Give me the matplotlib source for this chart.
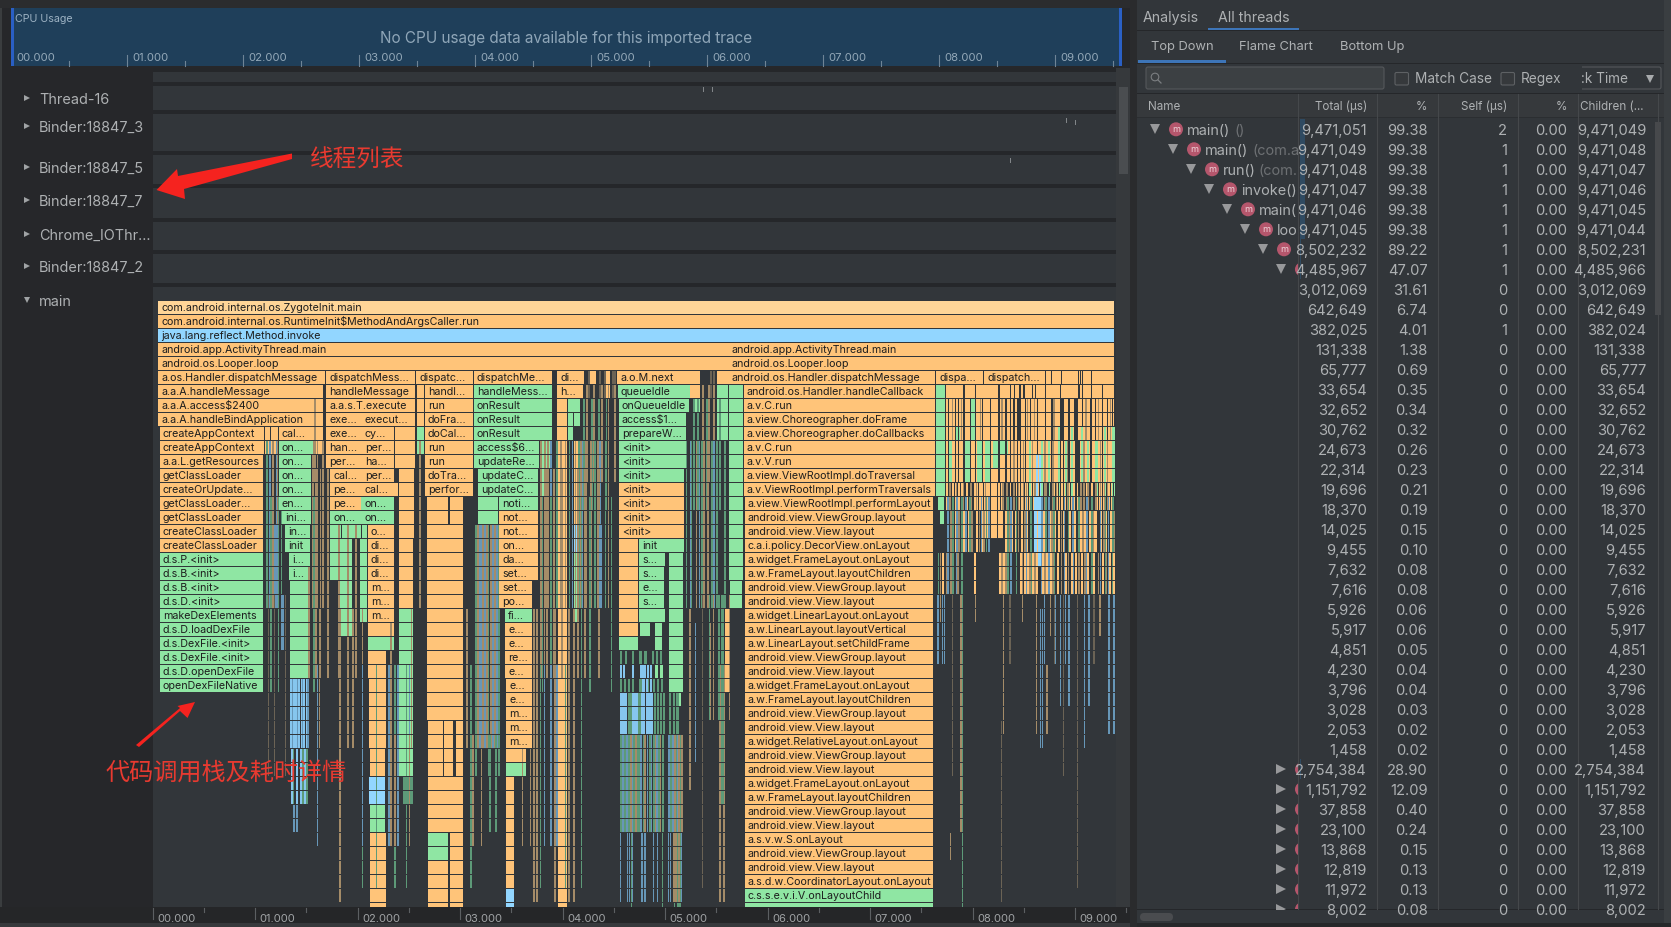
import matplotlib
matplotlib.use("Agg")
import matplotlib.pyplot as plt
from matplotlib.patches import Rectangle, Polygon, Circle, FancyBboxPatch

plt.rcParams['font.family'] = ['Inter', 'DejaVu Sans']

W, H = 1671, 927
BG = '#26272a'; PANEL = '#32363a'; TXT = '#aeb1b3'

COLORS = {'l': '#ffd597', 'o': '#ffc479', 'b': '#92d6ff', 'g': '#8fe6a3', 'bg': PANEL, 'lb': '#86c6ee',
          'mo': '#a58c68', 'mb': '#6797b8', 'mg': '#5d9a78', 'do': '#6b6355'}

# ---------- flame chart data: time in seconds, depth = row index ----------
ROOT_FRAMES = [
    (0, .052, 9.383, 'l', 'com.android.internal.os.ZygoteInit.main'),
    (1, .052, 9.383, 'o', 'com.android.internal.os.RuntimeInit$MethodAndArgsCaller.run'),
    (2, .052, 9.383, 'b', 'java.lang.reflect.Method.invoke'),
    (3, .052, 5.610, 'o', 'android.app.ActivityThread.main'),
    (3, 5.617, 9.383, 'o', 'android.app.ActivityThread.main'),
    (4, .052, 5.610, 'o', 'android.os.Looper.loop'),
    (4, 5.617, 9.383, 'o', 'android.os.Looper.loop'),
]
LEFT_FRAMES = [
    (5, .052, 1.683, 'o', 'a.os.Handler.dispatchMessage'), (5, 1.690, 2.561, 'o', 'dispatchMess...'),
    (5, 2.568, 3.125, 'o', 'dispatc...'), (5, 3.132, 3.902, 'o', 'dispatchMe...'),
    (5, 3.944, 4.209, 'o', 'di...'), (5, 4.530, 5.341, 'o', 'a.o.M.next'),
    (6, .052, 1.662, 'o', 'a.a.A.handleMessage'), (6, 1.690, 2.561, 'o', 'handleMessage'),
    (6, 2.655, 3.125, 'o', 'handl...'), (6, 3.132, 3.902, 'g', 'handleMess...'),
    (6, 3.948, 4.199, 'o', 'h...'), (6, 4.537, 5.244, 'g', 'queueIdle'),
    (7, .052, 1.561, 'o', 'a.a.A.access$2400'), (7, 1.690, 2.561, 'o', 'a.a.s.T.execute'),
    (7, 2.655, 3.125, 'o', 'run'), (7, 3.132, 3.902, 'g', 'onResult'), (7, 4.547, 5.237, 'g', 'onQueueIdle'),
    (8, .052, 1.561, 'o', 'a.a.A.handleBindApplication'), (8, 1.690, 2.031, 'o', 'exe...'),
    (8, 2.038, 2.561, 'o', 'execut...'), (8, 2.655, 3.125, 'o', 'doFra...'),
    (8, 3.132, 3.902, 'g', 'onResult'), (8, 4.547, 5.202, 'g', 'access$1...'),
    (9, .070, 1.091, 'o', 'createAppContext'), (9, 1.230, 1.561, 'o', 'cal...'), (9, 1.690, 2.031, 'o', 'exe...'),
    (9, 2.038, 2.359, 'o', 'cy...'), (9, 2.655, 3.125, 'o', 'doCal...'), (9, 3.132, 3.902, 'g', 'onResult'),
    (9, 4.547, 5.202, 'g', 'prepareW...'),
    (10, .070, 1.091, 'o', 'createAppContext'), (10, 1.230, 1.561, 'g', 'on...'), (10, 1.690, 2.031, 'o', 'han...'),
    (10, 2.038, 2.359, 'o', 'per...'), (10, 2.655, 3.125, 'o', 'run'), (10, 3.132, 3.774, 'g', 'access$6...'),
    (10, 4.547, 5.202, 'g', '<init>'),
    (11, .070, 1.080, 'o', 'a.a.L.getResources'), (11, 1.230, 1.544, 'g', 'on...'), (11, 1.690, 2.031, 'o', 'per...'),
    (11, 2.038, 2.359, 'o', 'ha...'), (11, 2.655, 3.125, 'o', 'run'), (11, 3.132, 3.774, 'g', 'updateRe...'),
    (11, 4.547, 5.202, 'g', '<init>'),
    (12, .070, 1.080, 'o', 'getClassLoader'), (12, 1.230, 1.544, 'g', 'on...'), (12, 1.735, 2.031, 'o', 'cal...'),
    (12, 2.038, 2.359, 'o', 'per...'), (12, 2.655, 3.125, 'o', 'doTra...'), (12, 3.171, 3.763, 'g', 'updateC...'),
    (12, 4.547, 5.181, 'g', '<init>'),
    (13, .070, 1.080, 'o', 'createOrUpdate...'), (13, 1.230, 1.544, 'g', 'on...'), (13, 1.735, 2.031, 'o', 'pe...'),
    (13, 2.038, 2.394, 'o', 'cal...'), (13, 2.655, 3.125, 'o', 'perfor...'), (13, 3.171, 3.763, 'g', 'updateC...'),
    (13, 4.547, 5.181, 'o', '<init>'),
    (14, .070, 1.080, 'o', 'getClassLoader...'), (14, 1.230, 1.544, 'g', 'en...'), (14, 1.735, 2.031, 'o', 'pe...'),
    (14, 2.038, 2.359, 'g', 'on...'), (14, 3.380, 3.763, 'g', 'noti...'), (14, 4.547, 5.181, 'o', '<init>'),
    (15, .070, 1.080, 'o', 'getClassLoader'), (15, 1.265, 1.544, 'g', 'ini...'), (15, 1.735, 2.031, 'g', 'on...'),
    (15, 2.038, 2.359, 'g', 'on...'), (15, 3.380, 3.700, 'o', 'not...'), (15, 4.547, 5.181, 'o', '<init>'),
    (16, .070, 1.080, 'o', 'createClassLoader'), (16, 1.289, 1.533, 'g', 'in...'), (16, 2.098, 2.359, 'o', 'o...'),
    (16, 3.380, 3.700, 'o', 'not...'), (16, 4.547, 5.181, 'o', '<init>'),
    (17, .070, 1.080, 'o', 'createClassLoader'), (17, 1.289, 1.533, 'g', 'init'), (17, 2.098, 2.359, 'o', 'di...'),
    (17, 3.380, 3.700, 'o', 'on...'), (17, 4.746, 5.181, 'g', 'init'),
    (18, .070, 1.080, 'g', 'd.s.P.<init>'), (18, 1.334, 1.533, 'g', 'i...'), (18, 2.098, 2.359, 'o', 'di...'),
    (18, 3.380, 3.700, 'o', 'da...'), (18, 4.746, 5.000, 'g', 's...'),
    (19, .070, 1.080, 'g', 'd.s.B.<init>'), (19, 1.334, 1.516, 'g', 'i...'), (19, 2.098, 2.359, 'o', 'di...'),
    (19, 3.380, 3.700, 'o', 'set...'), (19, 4.746, 4.993, 'g', 's...'),
    (20, .070, 1.080, 'g', 'd.s.B.<init>'), (20, 2.098, 2.359, 'o', 'm...'), (20, 3.380, 3.700, 'o', 'set...'),
    (20, 4.746, 4.993, 'g', 'e...'),
    (21, .070, 1.080, 'g', 'd.s.D.<init>'), (21, 2.098, 2.359, 'o', 'm...'), (21, 3.380, 3.700, 'o', 'po...'),
    (21, 4.746, 4.993, 'g', 's...'),
    (22, .070, 1.080, 'g', 'makeDexElements'), (22, 2.098, 2.359, 'o', 'm...'), (22, 3.439, 3.700, 'g', 'fi...'),
    (23, .070, 1.080, 'g', 'd.s.D.loadDexFile'), (23, 3.439, 3.700, 'o', 'e...'),
    (24, .070, 1.080, 'g', 'd.s.DexFile.<init>'), (24, 3.439, 3.700, 'o', 'e...'),
    (25, .070, 1.080, 'g', 'd.s.DexFile.<init>'), (25, 3.439, 3.700, 'o', 're...'),
    (26, .070, 1.080, 'g', 'd.s.D.openDexFile'), (26, 3.439, 3.700, 'o', 'e...'),
    (27, .070, 1.080, 'g', 'openDexFileNative'), (27, 3.449, 3.700, 'o', 'e...'),
    (28, 3.449, 3.700, 'o', 'e...'), (29, 3.449, 3.700, 'o', 'm...'),
    (30, 3.449, 3.700, 'o', 'm...'), (31, 3.449, 3.700, 'o', 'm...'),
]
RIGHT_FRAMES = [
    (5, 5.617, 7.637, 'o', 'android.os.Handler.dispatchMessage'),
    (5, 7.643, 8.105, 'o', 'dispa...'), (5, 8.112, 8.707, 'o', 'dispatch...'),
]
# labelled run of the long layout frame, one entry per row starting at depth 6
LAYOUT_START_DEPTH = 6
LAYOUT_STACK = [
    'android.os.Handler.handleCallback', 'a.v.C.run', 'a.view.Choreographer.doFrame',
    'a.view.Choreographer.doCallbacks', 'a.v.C.run', 'a.v.V.run', 'a.view.ViewRootImpl.doTraversal',
    'a.v.ViewRootImpl.performTraversals', 'a.view.ViewRootImpl.performLayout', 'android.view.ViewGroup.layout',
    'android.view.View.layout', 'c.a.i.policy.DecorView.onLayout', 'a.widget.FrameLayout.onLayout',
    'a.w.FrameLayout.layoutChildren', 'android.view.ViewGroup.layout', 'android.view.View.layout',
    'a.widget.LinearLayout.onLayout', 'a.w.LinearLayout.layoutVertical', 'a.w.LinearLayout.setChildFrame',
    'android.view.ViewGroup.layout', 'android.view.View.layout', 'a.widget.FrameLayout.onLayout',
    'a.w.FrameLayout.layoutChildren', 'android.view.ViewGroup.layout', 'android.view.View.layout',
    'a.widget.RelativeLayout.onLayout', 'android.view.ViewGroup.layout', 'android.view.View.layout',
    'a.widget.FrameLayout.onLayout', 'a.w.FrameLayout.layoutChildren', 'android.view.ViewGroup.layout',
    'android.view.View.layout', 'a.s.v.w.S.onLayout', 'android.view.ViewGroup.layout',
    'android.view.View.layout', 'a.s.d.w.CoordinatorLayout.onLayout', 'c.s.s.e.v.i.V.onLayoutChild', '...',
]
# unlabelled blocks: first depth, last depth, start, end, kind
BLOCKS = [
    (6, 7, 1.568, 1.662, 'o'), (8, 9, 1.568, 1.662, 'o'), (9, 9, 1.098, 1.150, 'o'), (9, 9, 1.160, 1.223, 'o'),
    (10, 10, 1.098, 1.223, 'o'), (10, 10, 1.575, 1.662, 'o'),
    (9, 11, 2.366, 2.561, 'o'), (12, 13, 2.401, 2.554, 'o'), (14, 16, 2.401, 2.554, 'o'), (17, 21, 2.401, 2.544, 'o'),
    (6, 8, 2.578, 2.648, 'o'), (9, 10, 2.578, 2.648, 'g'),
    (14, 15, 2.676, 2.882, 'o'), (14, 15, 2.902, 3.031, 'o'), (16, 29, 2.676, 3.031, 'o'),
    (30, 33, 2.683, 2.833, 'o'), (30, 33, 2.840, 2.927, 'o'), (30, 33, 2.962, 3.031, 'o'),
    (34, 37, 2.683, 3.031, 'o'), (38, 39, 2.683, 2.882, 'g'), (38, 39, 2.902, 3.031, 'o'),
    (40, 43, 2.683, 2.882, 'o'), (40, 43, 2.902, 3.031, 'o'),
    (14, 15, 3.171, 3.373, 'g'), (6, 6, 4.05, 4.164, 'o'), (7, 13, 3.948, 4.042, 'o'), (14, 21, 3.955, 4.042, 'o'), (22, 43, 3.955, 4.042, 'o'),
    (7, 7, 4.049, 4.171, 'g'), (8, 9, 4.049, 4.101, 'g'), (8, 8, 4.108, 4.171, 'g'),
    (6, 6, 3.948, 4.199, 'o'), (10, 15, 4.11, 4.164, 'o'), (16, 17, 4.11, 4.164, 'b'), (18, 22, 4.11, 4.164, 'g'),
    (15, 19, 3.70, 3.76, 'o'),
    (5, 5, 4.250, 4.330, 'o'), (5, 6, 4.400, 4.460, 'o'),
    (10, 11, 3.780, 3.902, 'g'), (12, 13, 3.780, 3.870, 'g'),
    (6, 6, 5.244, 5.341, 'o'), (7, 7, 5.272, 5.341, 'g'),
    (16, 16, 1.735, 1.840, 'g'), (16, 16, 1.847, 1.944, 'g'), (16, 16, 1.951, 2.031, 'g'), (16, 16, 2.045, 2.091, 'g'),
    (17, 19, 1.735, 1.810, 'g'), (17, 19, 1.82, 1.943, 'g'), (17, 19, 2.02, 2.091, 'g'),
    (20, 23, 1.82, 1.943, 'g'), (20, 22, 2.02, 2.091, 'g'),
    (20, 26, 1.341, 1.516, 'g'),
    (23, 23, 2.098, 2.359, 'o'), (24, 24, 2.098, 2.359, 'g'), (25, 26, 2.098, 2.282, 'o'), (27, 31, 2.108, 2.282, 'o'),
    (32, 33, 2.122, 2.265, 'o'), (34, 35, 2.115, 2.265, 'b'), (36, 37, 2.122, 2.265, 'g'), (38, 43, 2.125, 2.275, 'o'),
    (22, 26, 2.401, 2.544, 'g'), (27, 31, 2.404, 2.544, 'g'), (32, 33, 2.404, 2.544, 'g'), (34, 35, 2.440, 2.544, 'mg'),
    (32, 33, 3.449, 3.641, 'o'), (33, 33, 3.449, 3.641, 'g'), (34, 41, 3.449, 3.530, 'o'), (42, 43, 3.449, 3.530, 'b'),
    (17, 23, 4.547, 4.739, 'o'), (24, 24, 4.547, 4.739, 'g'),
    (18, 27, 5.035, 5.174, 'g'), (22, 22, 4.746, 5.000, 'g'), (23, 24, 4.90, 4.97, 'g'), (23, 23, 4.76, 4.85, 'g'),
    (28, 28, 5.13, 5.155, 'g'),
    (16, 26, 1.340, 1.500, 'g'),
    (5, 5, 5.504, 5.610, 'o'), (6, 9, 5.504, 5.610, 'g'), (6, 19, 5.621, 5.764, 'g'), (20, 21, 5.630, 5.754, 'g'),
    (5, 5, 8.713, 9.383, 'o'), (6, 14, 7.74, 9.383, 'o'), (15, 16, 8.12, 8.30, 'o'),
    (6, 13, 7.643, 7.735, 'g'), (14, 14, 7.66, 7.72, 'g'), (15, 15, 7.68, 7.72, 'g'),
    (7, 9, 7.99, 8.024, 'g'), (9, 9, 7.83, 7.88, 'g'),
    (10, 12, 7.91, 7.99, 'g'), (10, 12, 8.04, 8.105, 'g'), (10, 12, 8.12, 8.17, 'g'), (10, 11, 8.20, 8.25, 'g'),
    (10, 10, 8.25, 8.35, 'g'), (10, 12, 7.77, 7.80, 'g'),
]
# thin stripes: first depth, last depth, kind, width, times
STRIPES = [
    (5, 5, 'bg', .012, [8.762, 8.86, 9.026, 9.05, 9.065, 9.153]),
    (6, 6, 'bg', .012, [7.91, 8.024, 8.252, 8.366, 8.405, 8.457, 8.496, 8.577, 8.61, 8.707, 8.853, 9.032, 9.065, 9.153, 9.26]),
    (7, 12, 'bg', .012, [7.76, 7.83, 7.86, 7.91, 7.975, 8.024, 8.09, 8.17, 8.252, 8.32, 8.366, 8.40, 8.51, 8.56, 8.63, 8.707, 8.77, 8.935, 9.02, 9.065, 9.15, 9.195, 9.26, 9.31, 9.36]),
    (7, 9, 'bg', .04, [8.43, 8.85, 8.99]),
    (7, 9, 'mo', .014, [7.80, 7.885, 8.07, 8.28, 8.53, 8.60, 8.79, 9.10, 9.22, 9.34]),
    (9, 13, 'g', .025, [8.83, 8.96, 9.055, 9.28, 9.365]),
    (10, 13, 'g', .02, [8.55, 8.67, 8.74, 8.90, 9.12, 9.20]),
    (10, 14, 'bg', .016, [8.43, 8.46, 8.85, 8.88, 9.0, 9.03]),
    (11, 14, 'b', .02, [8.62, 8.645]),
    (10, 14, 'mo', .014, [8.40, 8.49, 8.58, 8.70, 8.78, 8.92, 9.08, 9.24, 9.31]),
    (13, 14, 'bg', .012, [7.76, 7.79, 7.82, 7.85, 7.88, 7.92, 7.96, 8.00, 8.05, 8.10, 8.17, 8.24, 8.27, 8.31, 8.35, 8.38, 8.41, 8.50, 8.54, 8.58, 8.65, 8.69, 8.73, 8.76, 8.80, 8.83, 8.91, 8.95, 9.07, 9.10, 9.14, 9.18, 9.22, 9.26, 9.30, 9.34, 9.37]),
    (13, 14, 'mo', .016, [7.775, 7.835, 7.905, 7.98, 8.03, 8.12, 8.29, 8.33, 8.44, 8.52, 8.60, 8.71, 8.81, 8.93, 9.05, 9.12, 9.20, 9.28]),
    (15, 16, 'bg', .012, [8.17, 8.24]),
    (15, 17, 'o', .024, [7.75, 7.83, 7.90, 7.96, 8.03, 8.08, 8.32, 8.37, 8.41, 8.47, 8.52, 8.56, 8.63, 8.69, 8.74, 8.79, 8.83, 8.88, 8.94, 8.99, 9.04, 9.09, 9.14, 9.19, 9.24, 9.29, 9.34]),
    (15, 17, 'mo', .018, [7.78, 7.86, 7.93, 7.99, 8.06, 8.10, 8.35, 8.44, 8.50, 8.66, 8.77, 8.86, 8.97, 9.07, 9.17, 9.27, 9.37]),
    (14, 17, 'mb', .016, [7.75, 7.84, 7.93, 8.08, 8.15, 8.37, 8.52, 8.67, 8.74, 8.89, 8.97, 9.11, 9.24, 9.32]),
    (14, 17, 'mg', .016, [7.80, 7.89, 7.97, 8.13, 8.34, 8.42, 8.56, 8.71, 8.79, 8.93, 9.03, 9.16, 9.29, 9.36]),
    (14, 18, 'b', .025, [8.60, 8.64]),
    (18, 20, 'mb', .016, [7.75, 7.84, 8.37, 8.52, 8.67, 8.74, 8.89, 8.97, 9.11, 9.24, 9.32]),
    (18, 20, 'mg', .016, [7.66, 7.80, 7.89, 8.34, 8.42, 8.56, 8.71, 8.79, 8.93, 9.03, 9.16, 9.29, 9.36]),
    (18, 20, 'o', .02, [7.70, 8.01, 8.26, 8.30, 8.46, 8.50, 8.53, 8.58, 8.62, 8.68, 8.72, 8.76, 8.82, 8.90, 8.96, 9.00, 9.06, 9.12, 9.18, 9.26, 9.33, 9.37]),
    (18, 20, 'mo', .016, [7.68, 7.74, 7.78, 7.85, 8.28, 8.32, 8.48, 8.55, 8.60, 8.70, 8.78, 8.86, 8.93, 9.03, 9.09, 9.22, 9.30]),
    (5, 6, 'do', .02, [4.25, 4.36, 4.40, 4.48, 4.50, 5.44, 5.47]),
    (6, 12, 'mo', .018, [1.58, 4.23, 4.30, 4.38, 4.44, 4.50, 5.36, 5.42, 5.47]),
    (7, 14, 'mg', .018, [4.20, 4.28, 4.35, 4.42, 5.27, 5.31, 5.40, 5.53]),
    (10, 21, 'mo', .016, [1.17, 1.21, 1.56, 1.60, 1.655, 2.60, 3.78, 3.82, 3.85, 3.98, 4.02, 4.12, 4.17, 4.22, 4.27, 4.34, 4.44, 5.30, 5.37, 5.41]),
    (10, 21, 'mg', .016, [1.11, 1.25, 3.94, 4.06, 4.15, 4.31, 4.41, 5.20, 5.25, 5.35, 5.45, 5.50, 5.58]),
    (10, 21, 'mb', .014, [1.14, 1.20, 3.88, 4.09, 4.19, 4.36, 5.24, 5.33, 5.47]),
    (12, 26, 'mo', .018, [1.52, 1.59, 1.63, 1.70, 1.81, 1.90, 1.98, 3.78, 3.84, 3.91, 3.99, 4.14, 4.21, 4.35]),
    (14, 27, 'mg', .014, [1.15, 1.22, 1.57, 3.80, 3.88, 4.18, 4.26, 4.47]),
    (16, 31, 'mo', .03, [3.17, 3.21, 3.25, 3.29, 3.33]),
    (16, 31, 'mb', .02, [3.19, 3.23, 3.31, 3.35]),
    (16, 33, 'mg', .016, [3.15, 3.27, 3.37]),
    (16, 21, 'mb', .03, [1.19, 4.36]),
    (21, 33, 'do', .012, [1.122, 1.29, 1.185]),
    (21, 24, 'mb', .02, [1.25, 1.26]),
    (22, 42, 'mo', .02, [1.82, 3.71, 3.74, 3.92, 4.05, 4.10]),
    (22, 31, 'mo', .014, [1.62, 1.90, 1.95, 2.04, 2.32, 2.52, 3.06, 3.82]),
    (26, 41, 'mg', .014, [2.04, 2.18, 2.36, 2.47, 3.10, 3.78, 4.02, 4.18]),
    (26, 38, 'mb', .014, [1.60, 2.04, 2.30, 2.39, 2.50, 3.82, 3.88, 3.94]),
    (31, 38, 'mo', .014, [2.32, 2.36, 2.50, 3.12, 3.20, 3.60, 3.68]),
    (31, 37, 'mg', .02, [3.28, 3.34]),
    (27, 31, 'lb', .02, [1.345, 1.37, 1.395, 1.42, 1.445, 1.47, 1.495]),
    (27, 31, 'mb', .012, [1.36, 1.41, 1.46, 1.51]),
    (32, 35, 'lb', .02, [1.35, 1.40, 1.44, 1.48]),
    (32, 35, 'mg', .014, [1.37, 1.46, 1.50]),
    (36, 37, 'mb', .016, [1.375, 1.40]),
    # lower block of the 4.55-5.2 s burst
    (25, 25, 'mg', .022, [4.56, 4.61, 4.68, 4.75, 4.80, 4.87, 4.91, 4.95]),
    (26, 26, 'lb', .022, [4.56, 4.59, 4.68, 4.76, 4.79, 4.82, 4.85]),
    (26, 26, 'g', .03, [4.90, 4.95]),
    (27, 27, 'mg', .022, [4.56, 4.60, 4.64, 4.68, 4.75, 4.82, 4.88, 4.92, 4.96]),
    (27, 27, 'lb', .022, [4.78, 4.81, 4.85]),
    (28, 30, 'lb', .024, [4.56, 4.585, 4.61, 4.68, 4.71, 4.76, 4.785, 4.81, 4.835, 4.86]),
    (28, 30, 'mg', .022, [4.635, 4.66, 4.74, 4.89, 4.92, 4.95, 4.98, 5.04, 5.08, 5.11]),
    (31, 37, 'mg', .022, [4.56, 4.60, 4.64, 4.69, 4.73, 4.79, 4.84, 4.88, 4.93, 4.97, 5.05, 5.10, 5.15]),
    (31, 37, 'mb', .018, [4.58, 4.62, 4.67, 4.76, 4.82, 4.86, 4.91, 5.03, 5.07, 5.12]),
    (31, 37, 'mo', .014, [4.66, 4.71, 4.80, 4.90, 4.95, 5.09, 5.13, 5.16]),
    (38, 42, 'mb', .012, [4.56, 4.63, 4.645, 4.68, 4.77, 4.80, 4.88, 4.92, 5.03, 5.05, 5.15]),
    (38, 43, 'mg', .012, [4.67, 4.97, 5.09, 5.12, 5.14]),
    (38, 42, 'mo', .014, [5.08, 5.10, 5.13]),
    (22, 34, 'mo', .012, [5.237]), (23, 32, 'mb', .012, [5.293]), (23, 30, 'do', .012, [5.357]),
    (23, 29, 'mo', .012, [5.44]), (26, 42, 'mo', .012, [5.53, 5.57]), (21, 35, 'mg', .014, [5.545, 5.56]),
    (22, 27, 'o', .03, [5.59]), (21, 41, 'do', .012, [5.357]), (21, 29, 'mo', .012, [5.47, 5.627]),
    (21, 29, 'mg', .012, [5.43, 5.52]),
    (21, 25, 'mb', .012, [7.657, 7.70, 7.72, 8.70, 8.80, 8.90, 9.13, 9.09]),
    (21, 22, 'mo', .012, [7.68, 8.02, 8.485]),
    (21, 33, 'do', .012, [7.80]),
    (21, 37, 'mo', .014, [7.88]), (21, 43, 'mg', .012, [7.90]),
    (21, 30, 'mo', .012, [8.30, 8.62]),
    (30, 42, 'do', .012, [8.28]),
    (21, 25, 'do', .012, [8.36, 8.795, 9.18]),
    (22, 31, 'mb', .012, [8.66, 8.68, 9.088]),
    (26, 30, 'mo', .012, [8.72]),
    (21, 28, 'mb', .012, [8.85, 8.935, 9.13]),
    (21, 33, 'do', .012, [8.885]),
    (21, 41, 'do', .014, [9.017]),
    (21, 23, 'mo', .012, [9.237, 8.755]),
    (21, 30, 'mb', .012, [9.325, 9.375]),
    (38, 39, 'mo', .012, [7.78]),
]
THREADS = ['Thread-16', 'Binder:18847_3', 'Binder:18847_5', 'Binder:18847_7', 'Chrome_IOThr...', 'Binder:18847_2', 'main']
TICK_LABELS = ['00.000', '01.000', '02.000', '03.000', '04.000', '05.000', '06.000', '07.000', '08.000', '09.000']

# ---------- table data ----------
NAMES = ['main()', 'main()', 'run()', 'invoke()', 'main(', 'loo', '', '']
NAME_SUFFIX = ['()', '(com.a', '(com.', '', '', '', '', '']
TOTAL = ['9,471,051', '9,471,049', '9,471,048', '9,471,047', '9,471,046', '9,471,045', '8,502,232', '4,485,967',
         '3,012,069', '642,649', '382,025', '131,338', '65,777', '33,654', '32,652', '30,762', '24,673', '22,314',
         '19,696', '18,370', '14,025', '9,455', '7,632', '7,616', '5,926', '5,917', '4,851', '4,230', '3,796',
         '3,028', '2,053', '1,458', '2,754,384', '1,151,792', '37,858', '23,100', '13,868', '12,819', '11,972', '8,002']
TOTAL_PCT = ['99.38'] * 6 + ['89.22', '47.07', '31.61', '6.74', '4.01', '1.38', '0.69', '0.35', '0.34', '0.32', '0.26',
             '0.23', '0.21', '0.19', '0.15', '0.10', '0.08', '0.08', '0.06', '0.06', '0.05', '0.04', '0.04', '0.03',
             '0.02', '0.02', '28.90', '12.09', '0.40', '0.24', '0.15', '0.13', '0.13', '0.08']
SELF = ['2', '1', '1', '1', '1', '1', '1', '1', '0', '0', '1'] + ['0'] * 29
SELF_PCT = ['0.00'] * 40
CHILDREN = ['9,471,049', '9,471,048', '9,471,047', '9,471,046', '9,471,045', '9,471,044', '8,502,231', '4,485,966',
            '3,012,069', '642,649', '382,024', '131,338', '65,777', '33,654', '32,652', '30,762', '24,673', '22,314',
            '19,696', '18,370', '14,025', '9,455', '7,632', '7,616', '5,926', '5,917', '4,851', '4,230', '3,796',
            '3,028', '2,053', '1,458', '2,754,384', '1,151,792', '37,858', '23,100', '13,868', '12,819', '11,972', '8,002']

fig = plt.figure(figsize=(W / 100, H / 100), dpi=100, facecolor=BG)

# ---------- screen chrome, in pixel coordinates ----------
ax = fig.add_axes([0, 0, 1, 1], zorder=1)
ax.set_xlim(0, W); ax.set_ylim(H, 0); ax.axis('off')

def box(x0, y0, x1, y1, c, target=ax, **kw):
    target.add_patch(Rectangle((x0, y0), x1 - x0, y1 - y0, facecolor=c, edgecolor='none', **kw))

box(0, 0, W, 8, '#2b2c2e')
box(0, 8, 2, H, '#3a3d3f')
box(1130, 0, 1137, H, '#2a2b2d')
# CPU usage panel
box(11, 8, 1122, 66, '#1f3f5a')
box(11, 8, 14, 66, '#2a5fc4'); box(1119, 8, 1122, 66, '#2a5fc4')
ax.text(15, 18.5, 'CPU Usage', color='#9db2c3', fontsize=7.7, va='center')
ax.text(566, 38.5, 'No CPU usage data available for this imported trace', color='#8fa6b8', fontsize=11,
        va='center', ha='center')
CPU_X0, CPU_PX_PER_S = 11, 116
for i, lab in enumerate(TICK_LABELS):
    x = CPU_X0 + i * CPU_PX_PER_S
    if i:
        ax.plot([x, x], [55, 66], color='#6e8496', lw=.8)
    ax.plot([x + 58, x + 58], [61, 66], color='#6e8496', lw=.8)
    ax.text(x + 5, 57.5, lab, color='#93a8b8', fontsize=8.2, va='center')

# track rows
TRACK_ROWS = [(72, 82), (86, 110), (114, 151), (155, 184), (188, 218), (222, 250), (254, 283), (287, 907)]
LABEL_Y = [98, 126, 167, 200, 234, 266, 300]
box(153, 68, 1130, 907, '#25272a')
box(1116, 68, 1130, 907, '#36393c')
for y0, y1 in TRACK_ROWS:
    box(153, y0, 1116, y1, PANEL)
box(1119, 87, 1128, 174, '#4a4d50')
for lab, y in zip(THREADS, LABEL_Y):
    ax.text(39, y + 1.5, lab, color=TXT, fontsize=10.4, va='center')
    if lab == 'main':
        ax.plot([27], [y], marker='v', ms=5, color='#a0a3a5', mew=0)
    else:
        ax.plot([27], [y], marker='>', ms=5, color='#a0a3a5', mew=0)
for (mx, my) in [(703, 89), (712, 89), (1066, 120), (1075, 122), (1010, 160)]:
    ax.plot([mx, mx], [my - 2, my + 2], color='#85898c', lw=.7)

# bottom ruler of the flame chart
box(0, 907, 1130, 923, '#252628')
box(0, 923, 1130, H, '#37393c')

# ---------- flame chart: x = seconds, y = depth ----------
PX_PER_S, T0_PX = 102.5, 152.5
ROW_PX, D0_PX = 14, 307.5
fl = fig.add_axes([153 / W, 1 - 907 / H, (1116 - 153) / W, (907 - 295) / H], zorder=2)
fl.patch.set_alpha(0); fl.axis('off')
fl.set_xlim((153 - T0_PX) / PX_PER_S, (1116 - T0_PX) / PX_PER_S)
fl.set_ylim((907 - D0_PX) / ROW_PX, (295 - D0_PX) / ROW_PX)
BAR_H = 13 / 14

def bars(rows, z):
    by = {}
    for d, t0, t1, k in rows:
        by.setdefault(k, []).append((d, t0, t1))
    for k, v in by.items():
        fl.barh([r[0] for r in v], [r[2] - r[1] for r in v], left=[r[1] for r in v],
                height=BAR_H, color=COLORS[k], lw=0, zorder=z)

block_rows = [(d, t0, t1, k) for d0, d1, t0, t1, k in BLOCKS for d in range(d0, d1 + 1)]
bars(block_rows, 2)
z = 3
for d0, d1, k, w, times in STRIPES:
    bars([(d, t, t + w, k) for t in times for d in range(d0, d1 + 1)], z)
    z += .001

def frame(d, t0, t1, k, label):
    fl.barh(d, t1 - t0, left=t0, height=BAR_H, color=COLORS[k], lw=0, zorder=4)
    if label != '...':
        fl.text(t0 + .032, d + .03, label, color='#1d1d1d', fontsize=7.7, va='center', ha='left', zorder=5)

for rec in ROOT_FRAMES + LEFT_FRAMES + RIGHT_FRAMES:
    frame(*rec)
for i, lab in enumerate(LAYOUT_STACK):
    d = LAYOUT_START_DEPTH + i
    t0, t1 = (5.767, 7.637) if d < 14 else (5.777, 7.617)
    frame(d, t0, t1, 'g' if d >= 42 else 'o', lab)

for i, lab in enumerate(TICK_LABELS):
    x = T0_PX + i * PX_PER_S
    ax.plot([x, x], [908, 919], color='#5c5f62', lw=.8)
    ax.plot([x + PX_PER_S / 2] * 2, [908, 912], color='#5c5f62', lw=.8)
    ax.text(x + 4.5, 918.5, lab, color='#a2a5a7', fontsize=8, va='center', zorder=3)

# ---------- right panel ----------
box(1137, 0, W, H, PANEL)
box(1137, 30, 1664, 31, '#25272a'); box(1137, 62.5, 1664, 63.5, '#25272a'); box(1137, 93, 1664, 94, '#25272a')
box(1137, 117, 1664, 118, '#2b2e31'); box(1137, 909, 1664, 910, '#25272a'); box(1664, 0, W, H, '#3a3e41')
box(1137, 923, W, H, '#26282a')
ax.text(1143, 17.5, 'Analysis', color=TXT, fontsize=10.2, va='center')
ax.text(1218, 17.5, 'All threads', color=TXT, fontsize=10.2, va='center')
box(1208, 28, 1299, 30, '#3d75b8')
ax.text(1151, 47, 'Top Down', color=TXT, fontsize=9.3, va='center')
ax.text(1239, 47, 'Flame Chart', color=TXT, fontsize=9.3, va='center')
ax.text(1339.5, 47, 'Bottom Up', color=TXT, fontsize=9.3, va='center')
box(1138, 60, 1226, 63, '#3d75b8')
ax.add_patch(FancyBboxPatch((1146, 67), 238, 22, boxstyle='round,pad=0,rounding_size=2', fc='#3c4043', ec='#55585b', lw=.8))
ax.add_patch(Circle((1155, 77), 3.8, fc='none', ec='#7b7e81', lw=.8))
ax.plot([1158, 1161], [80, 83], color='#7b7e81', lw=.9)
for cx in (1395, 1501):
    ax.add_patch(FancyBboxPatch((cx, 72.5), 13.5, 12.5, boxstyle='round,pad=0,rounding_size=1.5', fc='#36393c', ec='#5e6164', lw=.8))
ax.text(1415, 79, 'Match Case', color=TXT, fontsize=9.8, va='center')
ax.text(1521, 79, 'Regex', color=TXT, fontsize=9.8, va='center')
ax.add_patch(FancyBboxPatch((1580, 67), 81, 22, boxstyle='round,pad=0,rounding_size=2', fc='#32363a', ec='#55585b', lw=.8))
box(1570, 66, 1582, 90, PANEL)
ax.text(1581, 79, ':k Time', color=TXT, fontsize=9.8, va='center')
ax.plot([1650], [78.5], marker='v', ms=6, color='#a8abad', mew=0)

box(1137, 94, 1664, 117, '#36393c')
COL_LINES = [1297.7, 1377.4, 1437.5, 1517.5, 1577.5, 1658]
for x in COL_LINES:
    ax.plot([x, x], [94, 909], color='#45484b', lw=.8, zorder=2)
HDR_RIGHT = [(1367, 'Total (µs)'), (1427.5, '%'), (1507, 'Self (µs)'), (1567.5, '%')]
ax.text(1148, 106.5, 'Name', color=TXT, fontsize=8.4, va='center')
for x, s in HDR_RIGHT:
    ax.text(x, 106.5, s, color=TXT, fontsize=8.4, va='center', ha='right')
ax.text(1580, 106.5, 'Children (...', color=TXT, fontsize=8.4, va='center')

tbl_clip = Rectangle((1137, 118), 527, 791, transform=ax.transData)
name_clip = Rectangle((1137, 118), 160.7, 791, transform=ax.transData)
ROW0, PITCH = 129.3, 20
SUFFIX_X = [1234, 1252, 1259]
for i in range(40):
    y = ROW0 + i * PITCH
    if i < 8 or i >= 32:
        lvl = min(i, 7)
        open_node = i < 8
        tri = ax.plot([1155 + 18 * lvl], [y - .5], marker='v' if open_node else '>', ms=6.5,
                      color='#98999b', mew=0, zorder=3)[0]
        tri.set_clip_path(tbl_clip)
        cx = 1176 + 18 * lvl
        c = Circle((cx, y), 7, fc='#b5566c', ec='none', zorder=3)
        ax.add_patch(c); c.set_clip_path(name_clip)
        if lvl < 7:
            ax.text(cx, y - .3, 'm', color='#f0d5da', fontsize=6.5, ha='center', va='center', zorder=4,
                    clip_on=True, clip_path=name_clip)
        if i < 8 and NAMES[i]:
            x0 = cx + 11
            ax.text(x0, y + 1.5, NAMES[i], color=TXT, fontsize=10.4, va='center', zorder=3,
                    clip_on=True, clip_path=name_clip)
            if NAME_SUFFIX[i]:
                ax.text(SUFFIX_X[i], y + 1.5, NAME_SUFFIX[i], color='#6d7073', fontsize=10.4, va='center', zorder=3,
                        clip_on=True, clip_path=name_clip)
    if i < 6:
        box(1300, y - 10, 1304.6, y + 10, '#2f4a61', zorder=2)
    elif i < 8 or i == 32:
        box(1300, y - 10, 1301, y + 10, '#2f4a61', zorder=2)
    for x, s in ((1367, TOTAL[i]), (1427.5, TOTAL_PCT[i]), (1507, SELF[i]), (1567, SELF_PCT[i]), (1646, CHILDREN[i])):
        ax.text(x, y + 1.5, s, color=TXT, fontsize=10.6, va='center', ha='right', zorder=4,
                clip_on=True, clip_path=tbl_clip)
box(1654.5, 122, 1661, 315, '#47494c', zorder=5)
ax.add_patch(FancyBboxPatch((1140, 913), 33, 8, boxstyle='round,pad=0,rounding_size=4', fc='#4a4c4f', ec='none', zorder=5))

# ---------- annotations on top ----------
ov = fig.add_axes([0, 0, 1, 1], zorder=5)
ov.set_xlim(0, W); ov.set_ylim(H, 0); ov.axis('off'); ov.patch.set_alpha(0)
RED = '#f5231f'
ov.add_patch(Polygon([(292, 153.5), (292, 159), (184, 189), (185, 199), (156.5, 190), (177, 169), (178, 176)],
                     closed=True, fc=RED, ec='none'))
ov.add_patch(Polygon([(136, 745), (139, 747), (180, 711), (187.5, 718), (195, 702), (177.5, 706), (180, 708)],
                     closed=True, fc=RED, ec='none'))
ov.text(310, 160.5, '线程列表', color='#e83a30', fontsize=17, va='center', family='Noto Sans CJK SC')
ov.text(105.5, 773, '代码调用栈及耗时详情', color='#e83a30', fontsize=17.4, va='center', family='Noto Sans CJK SC')

fig.savefig('out.png', dpi=100, facecolor=BG)
